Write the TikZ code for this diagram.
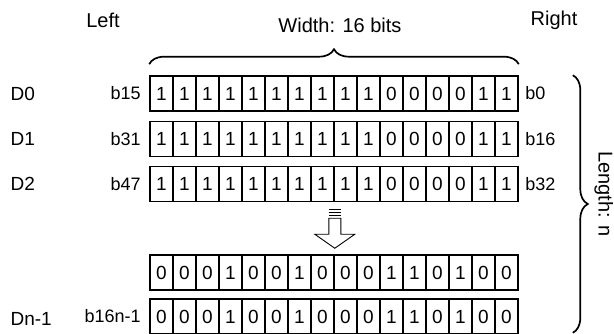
\documentclass[tikz,border=0pt]{standalone}
\usepackage{fontspec}
\setmainfont{Liberation Sans}
\usetikzlibrary{positioning,calc,decorations.pathreplacing}

\begin{document}
\begin{tikzpicture}[x=1pt, y=-1pt,
      bitcell/.style={draw, line width=1.6pt, minimum width=23pt, minimum height=35pt,
                      inner sep=0pt, font=\fontsize{19}{19}\selectfont},
      regname/.style={anchor=west, font=\fontsize{19}{19}\selectfont},
      bitname/.style={font=\fontsize{18}{18}\selectfont},
      toplabel/.style={font=\fontsize{20}{20}\selectfont},
      curly/.style={decorate, line width=1.7pt}
    ]
      \useasboundingbox (0,0) rectangle (614,334);

      % five rows of 16 bits
      \foreach \row/\y in {1/93.5, 2/139, 3/184, 4/272.5, 5/316.5} {
        \ifnum\row<4 \def\pat{1,1,1,1,1,1,1,1,1,1,0,0,0,0,1,1}\else
                     \def\pat{0,0,0,1,0,0,1,0,0,0,1,1,0,1,0,0}\fi
        \foreach \b [count=\i] in \pat
          \node[bitcell] (r\row c\i) at ({150+23*(\i-0.5)},\y) {\b};
      }

      % register names
      \node[regname] (d0) at (7,93.5) {D0};
      \node[regname] (d1) at (7,139) {D1};
      \node[regname] (d2) at (7,184) {D2};
      \node[regname] (dn) at (7,319) {Dn-1};

      % bit numbers
      \node[bitname, left=5pt of r1c1] (b15) {b15};
      \node[bitname, left=5pt of r2c1] (b31) {b31};
      \node[bitname, left=5pt of r3c1] (b47) {b47};
      \node[bitname, left=5pt of r5c1] (bn) {b16n-1};
      \node[bitname, right=3pt of r1c16] (b0) {b0};
      \node[bitname, right=3pt of r2c16] (b16) {b16};
      \node[bitname, right=3pt of r3c16] (b32) {b32};

      \node[toplabel] (left) at (103,20) {Left};
      \node[toplabel] (width) at (340,25) {Width: 16 bits};
      \node[toplabel] (right) at (554,20) {Right};

      % braces
      \draw[curly, decoration={brace, amplitude=15pt}]
        ($(r1c1.north west)+(0,-11)$) -- ($(r1c16.north east)+(0,-11)$);
      \draw[curly, decoration={brace, amplitude=15pt}]
        ($(r1c16.north east)+(54,0)$) -- ($(r5c16.south east)+(54,-2)$)
        coordinate[pos=0.5] (tip);
      \node[toplabel, rotate=-90] (length) at ($(tip)+(31,-10)$) {Length: n};

      % shift arrow
      \coordinate (shift) at ($(r3c8.south east)!0.5!(r4c8.north east)$);
      \begin{scope}[shift={(shift)}, line width=0.9pt]
        \foreach \dy in {-19,-16,-13}
          \draw (-6,\dy) -- (6,\dy);
        \draw (-6,-10) -- (-6,6) -- (-20,6) -- (0,20) -- (20,6) -- (6,6) -- (6,-10) -- cycle;
      \end{scope}
    \end{tikzpicture}
\end{document}
